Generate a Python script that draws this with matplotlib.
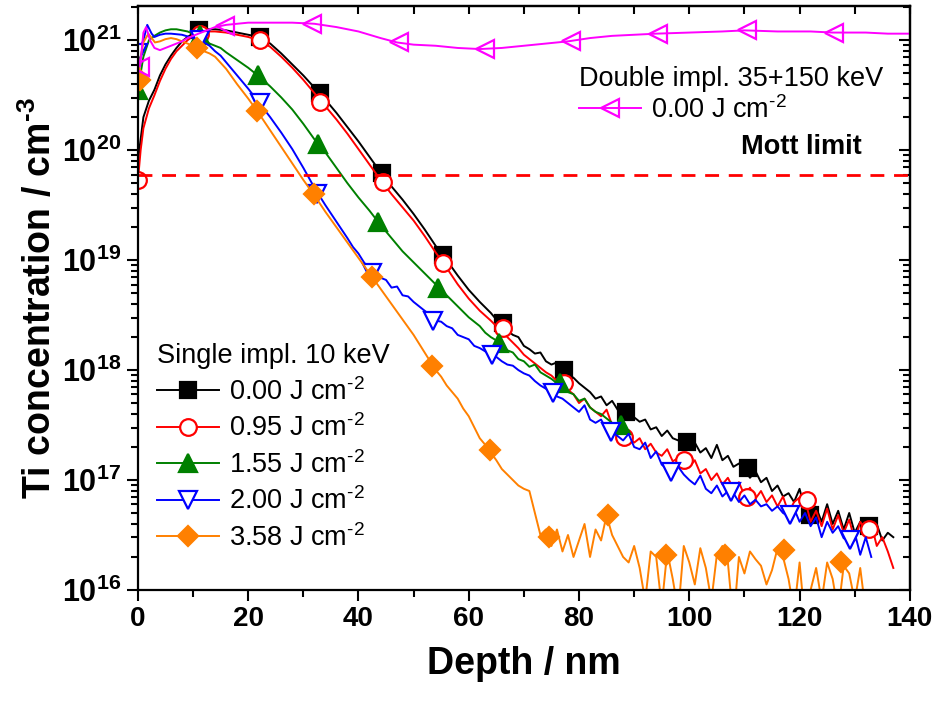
import matplotlib
matplotlib.use('Agg')
import matplotlib.pyplot as plt
import numpy as np
from matplotlib.lines import Line2D
from matplotlib.ticker import LogLocator, NullFormatter, FixedLocator

plt.rcParams['font.family'] = ['Liberation Sans', 'DejaVu Sans']
plt.rcParams['mathtext.fontset'] = 'custom'
plt.rcParams['mathtext.rm'] = 'Liberation Sans'
plt.rcParams['mathtext.bf'] = 'Liberation Sans:bold'

# depth in nm, concentration as log10(cm^-3)
smooth_depth = [0, 0.5, 1, 2, 3, 4, 5, 6, 7, 8, 9, 10, 11, 12, 13, 14,
                16, 18, 20, 22, 24, 26, 28, 30, 32, 34, 36, 38, 40, 42, 44,
                46, 48, 50, 52, 54, 56, 58, 60, 62, 64]

# single implantation 10 keV, 0.00 J/cm2
s000_depth = smooth_depth + list(range(65, 138))
s000_log = [19.9, 20.1, 20.3, 20.45, 20.55, 20.68, 20.78, 20.86, 20.93, 20.99, 21.03, 21.06, 21.09, 21.1, 21.1, 21.1,
            21.09, 21.07, 21.05, 21.03, 20.97, 20.88, 20.78, 20.68, 20.57, 20.46, 20.34, 20.21, 20.08, 19.94, 19.8,
            19.67, 19.55, 19.42, 19.28, 19.13, 19.0, 18.86, 18.73, 18.62, 18.52,
            18.46, 18.42, 18.36, 18.32, 18.30, 18.22, 18.19, 18.15, 18.16, 18.08,
            18.05, 18.07, 18.00, 17.96, 17.93, 17.88, 17.84, 17.80, 17.74, 17.76,
            17.68, 17.72, 17.64, 17.60, 17.62, 17.57, 17.53, 17.55, 17.46, 17.48,
            17.40, 17.45, 17.38, 17.36, 17.35, 17.30, 17.34, 17.25, 17.29, 17.20,
            17.32, 17.18, 17.22, 17.12, 17.15, 17.10, 17.02, 17.08, 16.98, 17.02,
            16.90, 16.95, 16.85, 16.88, 16.80, 16.92, 16.72, 16.68, 16.75, 16.62,
            16.78, 16.60, 16.72, 16.55, 16.70, 16.52, 16.62, 16.58, 16.50, 16.60,
            16.45, 16.52, 16.48]
s000_mk_depth = [11.1, 22.2, 33.1, 44.3, 55.3, 66.2, 77.3, 88.5, 99.5, 110.7, 121.8, 132.5]
s000_mk_log = [21.09, 21.03, 20.52, 19.79, 19.05, 18.43, 18.0, 17.62, 17.35, 17.11, 16.68, 16.58]

# 0.95 J/cm2
s095_depth = smooth_depth + list(range(65, 138))
s095_log = [19.72, 20.0, 20.2, 20.38, 20.5, 20.63, 20.74, 20.83, 20.9, 20.95, 21.0, 21.04, 21.06, 21.07, 21.08, 21.08,
            21.07, 21.05, 21.03, 21.0, 20.94, 20.85, 20.75, 20.64, 20.52, 20.4, 20.28, 20.15, 20.01, 19.87,
            19.73, 19.6, 19.48, 19.36, 19.22, 19.07, 18.93, 18.78, 18.65, 18.54, 18.45,
            18.40, 18.36, 18.30, 18.25, 18.20, 18.14, 18.10, 18.06, 18.02, 17.98,
            17.95, 17.90, 17.88, 17.82, 17.78, 17.70, 17.74, 17.66, 17.62, 17.58,
            17.64, 17.50, 17.45, 17.42, 17.40, 17.34, 17.38, 17.28, 17.33, 17.25,
            17.22, 17.28, 17.17, 17.20, 17.17, 17.12, 17.18, 17.06, 17.10, 17.00,
            17.06, 16.96, 17.02, 16.92, 16.98, 16.86, 16.93, 16.83, 16.90, 16.80,
            16.86, 16.76, 16.85, 16.70, 16.80, 16.84, 16.82, 16.62, 16.72, 16.58,
            16.74, 16.55, 16.68, 16.52, 16.64, 16.45, 16.62, 16.55, 16.60, 16.40,
            16.48, 16.35, 16.20]
s095_mk_depth = [0, 11.3, 22.2, 33.1, 44.4, 55.4, 66.2, 77.3, 88.2, 99.1, 110.4, 121.3, 132.5]
s095_mk_log = [19.73, 21.06, 21.0, 20.44, 19.71, 18.97, 18.38, 17.88, 17.39, 17.18, 16.85, 16.82, 16.55]

# 1.55 J/cm2
s155_depth = [0, 1, 2, 3, 4, 5, 6, 7, 8, 9, 10, 11, 12, 13, 14, 15, 16,
              18, 20, 22, 24, 26, 28, 30, 32, 34, 36, 38, 40, 42, 44, 46, 48, 50, 52, 54, 56, 58, 60] + list(range(61, 90))
s155_log = [20.55, 20.85, 21.0, 21.04, 21.07, 21.09, 21.1, 21.1, 21.09, 21.08, 21.06, 21.04, 21.0, 20.97, 20.95, 20.93, 20.89,
            20.82, 20.75, 20.67, 20.58, 20.48, 20.37, 20.24, 20.1, 19.98, 19.84, 19.7, 19.57, 19.45, 19.32,
            19.2, 19.08, 18.98, 18.88, 18.78, 18.68, 18.58, 18.48,
            18.44, 18.40, 18.34, 18.30, 18.27, 18.24, 18.18, 18.16, 18.10, 18.08,
            18.03, 18.05, 17.98, 17.95, 17.92, 17.88, 17.86, 17.80, 17.78, 17.72,
            17.74, 17.66, 17.62, 17.60, 17.56, 17.52, 17.50, 17.48, 17.45]
s155_mk_depth = [0, 11.3, 21.8, 32.7, 43.6, 54.5, 65.5, 76.5, 87.6]
s155_mk_log = [20.55, 21.05, 20.68, 20.06, 19.35, 18.75, 18.25, 17.88, 17.5]

# 2.00 J/cm2
s200_depth = [0, 1, 1.7, 2.5, 3, 4, 5, 6, 8, 10, 11, 12, 13, 14, 15, 16,
              18, 20, 22, 24, 26, 28, 30, 32, 34, 36, 38] + list(range(39, 134))
s200_log = [20.88, 21.0, 21.14, 21.06, 21.03, 21.05, 21.06, 21.06, 21.05, 21.02, 21.0, 20.98, 20.95, 20.9, 20.86, 20.8,
            20.68, 20.56, 20.43, 20.3, 20.16, 20.01, 19.84, 19.66, 19.5, 19.35, 19.2,
            19.12, 19.06, 18.98, 18.92, 18.87, 18.84, 18.82, 18.75, 18.76, 18.68,
            18.67, 18.62, 18.58, 18.54, 18.50, 18.45, 18.44, 18.40, 18.38, 18.32,
            18.30, 18.28, 18.22, 18.20, 18.17, 18.14, 18.12, 18.08, 18.05, 18.04,
            18.00, 17.97, 17.95, 17.90, 17.86, 17.83, 17.80, 17.76, 17.74, 17.70,
            17.66, 17.62, 17.68, 17.55, 17.52, 17.55, 17.46, 17.44, 17.40, 17.36,
            17.42, 17.30, 17.28, 17.34, 17.20, 17.26, 17.14, 17.10, 17.08, 17.12,
            17.05, 17.00, 16.96, 17.04, 16.92, 16.88, 16.95, 16.85, 16.90, 16.88,
            16.80, 16.86, 16.78, 16.82, 16.76, 16.78, 16.72, 16.76, 16.70, 16.67,
            16.74, 16.62, 16.70, 16.58, 16.66, 16.48, 16.62, 16.52, 16.58, 16.47,
            16.45, 16.52, 16.32, 16.48, 16.30]
s200_mk_depth = [0, 11.3, 22.2, 32.5, 42.5, 53.6, 64.3, 75.3, 85.8, 96.7, 107.6, 118.2, 129.1]
s200_mk_log = [20.88, 21.0, 20.43, 19.6, 18.88, 18.45, 18.14, 17.79, 17.44, 17.07, 16.89, 16.68, 16.45]

# 3.58 J/cm2
s358_depth = [0, 0.5, 1, 1.9, 2.5, 3.1, 4, 5, 6, 7, 8, 9, 10, 11, 12, 13, 14,
              16, 18, 20, 22, 24, 26, 28, 30, 32, 34, 36, 38, 40, 42, 44, 46, 48, 50, 52, 54] + list(range(55, 133))
s358_log = [20.64, 20.85, 20.98, 21.06, 21.02, 20.98, 20.99, 21.01, 21.02, 21.01, 20.99, 20.97, 20.95, 20.93, 20.9, 20.88, 20.85,
            20.74, 20.6, 20.47, 20.33, 20.18, 20.03, 19.88, 19.73, 19.59, 19.44, 19.3, 19.16, 19.02, 18.88,
            18.74, 18.6, 18.46, 18.32, 18.16, 18.0,
            17.94, 17.86, 17.80, 17.74, 17.65, 17.58, 17.48, 17.38, 17.32, 17.25,
            17.18, 17.10, 17.05, 17.00, 16.95, 16.92, 16.90, 16.70, 16.50, 16.55,
            16.40, 16.55, 16.35, 16.50, 16.30, 16.45, 16.60, 16.30, 16.55, 16.45,
            16.68, 16.50, 16.40, 16.30, 16.25, 16.40, 16.20, 15.90, 16.35, 16.30,
            15.85, 16.35, 16.10, 15.80, 16.40, 16.25, 16.05, 16.38, 16.20, 15.90,
            16.32, 16.40, 16.25, 15.70, 16.30, 16.15, 16.35, 16.28, 16.22, 16.05,
            16.18, 16.38, 16.30, 16.10, 15.80, 16.25, 15.70, 16.00, 16.20, 15.90,
            16.25, 16.10, 15.80, 16.22, 16.15, 15.90, 16.20, 15.80]
s358_mk_depth = [0.4, 10.7, 21.6, 31.9, 42.5, 53.4, 63.8, 74.6, 85.2, 95.8, 106.4, 117.2, 127.6]
s358_mk_log = [20.64, 20.93, 20.36, 19.6, 18.85, 18.04, 17.27, 16.48, 16.68, 16.32, 16.32, 16.36, 16.25]

# double implantation 35+150 keV, 0.00 J/cm2
d000_depth = [0, 0.4, 1, 1.5, 2.2, 3, 4, 5, 6, 7, 8, 9, 10, 11, 12, 13, 14, 16, 18, 20,
              24, 28, 32, 36, 40, 44, 47, 50, 54, 58, 62, 66, 70, 74, 78, 82, 86, 90, 94, 100,
              106, 110, 116, 122, 126, 132, 136, 140]
d000_log = [20.85, 20.76, 21.07, 21.12, 21.0, 20.93, 20.91, 20.93, 20.95, 20.97, 20.99, 21.02, 21.04, 21.06, 21.08, 21.1,
            21.12, 21.14, 21.15, 21.16, 21.16, 21.16, 21.15, 21.12, 21.08, 21.02, 20.98, 20.96, 20.95, 20.93,
            20.92, 20.93, 20.95, 20.97, 20.99, 21.02, 21.04, 21.05, 21.06, 21.07,
            21.08, 21.09, 21.08, 21.08, 21.07, 21.07, 21.06, 21.06]
d000_mk_depth = [0.4, 15.8, 31.6, 47.4, 63.0, 78.5, 94.3, 110.4, 126.2]
d000_mk_log = [20.76, 21.13, 21.15, 20.98, 20.92, 20.99, 21.06, 21.09, 21.07]

mott_limit = 6e19

HY = '\u2010'  # short hyphen for superscripts, as in the original

fig = plt.figure(figsize=(9.38, 7.04), dpi=100)
ax = fig.add_axes([0.147, 0.162, 0.823, 0.8295])

series = [
    (s000_depth, s000_log, s000_mk_depth, s000_mk_log, 'black', 's', 'black', '0.00'),
    (s095_depth, s095_log, s095_mk_depth, s095_mk_log, '#FF0000', 'o', 'white', '0.95'),
    (s155_depth, s155_log, s155_mk_depth, s155_mk_log, '#008000', '^', '#008000', '1.55'),
    (s200_depth, s200_log, s200_mk_depth, s200_mk_log, '#0000FF', 'v', 'white', '2.00'),
    (s358_depth, s358_log, s358_mk_depth, s358_mk_log, '#FF8000', 'D', '#FF8000', '3.58'),
]
msize = {'s': 11, 'o': 12, '^': 13, 'v': 13, 'D': 10}

single_handles = []
for dep, lg, mdep, mlg, col, mk, face, lab in series:
    ax.plot(dep, 10 ** np.array(lg), color=col, lw=1.4)
    ax.plot(mdep, 10 ** np.array(mlg), ls='none', marker=mk, ms=msize[mk],
            mfc=face, mec=col, mew=1.6)
    single_handles.append(Line2D([], [], color=col, lw=1.4, marker=mk, ms=msize[mk],
                                 mfc=face, mec=col, mew=1.6))

ax.plot(d000_depth, 10 ** np.array(d000_log), color='#FF00FF', lw=1.4)
ax.plot(d000_mk_depth, 10 ** np.array(d000_mk_log), ls='none', marker='<', ms=13,
        mfc='none', mec='#FF00FF', mew=1.6)
double_handle = Line2D([], [], color='#FF00FF', lw=1.4, marker='<', ms=13,
                       mfc='none', mec='#FF00FF', mew=1.6)

ax.axhline(mott_limit, color='#FF0000', lw=2, ls=(0, (5, 3.5)))
ax.text(131.3, 1.07e20, 'Mott limit', fontsize=19.5, fontweight='bold', ha='right', va='center')

ax.set_yscale('log')
ax.set_xlim(0, 140)
ax.set_ylim(1e16, 2.05e21)

ax.xaxis.set_major_locator(FixedLocator([0, 20, 40, 60, 80, 100, 120, 140]))
ax.xaxis.set_minor_locator(FixedLocator([10, 30, 50, 70, 90, 110, 130]))
ax.yaxis.set_major_locator(LogLocator(base=10, numticks=10))
ax.yaxis.set_minor_locator(LogLocator(base=10, subs=np.arange(2, 10), numticks=10))
ax.yaxis.set_minor_formatter(NullFormatter())
ax.set_yticks([1e16, 1e17, 1e18, 1e19, 1e20, 1e21])
ax.set_yticklabels([r'$\mathbf{10^{%d}}$' % e for e in [16, 17, 18, 19, 20, 21]])
ax.set_xticklabels(['0', '20', '40', '60', '80', '100', '120', '140'])
for lbl in ax.get_xticklabels():
    lbl.set_fontweight('bold')
ax.tick_params(axis='both', which='major', direction='out', length=8, width=1.5, labelsize=20)
ax.tick_params(axis='y', which='major', labelsize=22, pad=4)
ax.tick_params(axis='both', which='minor', direction='out', length=5, width=1.5)

for sp in ax.spines.values():
    sp.set_linewidth(1.6)

top = ax.secondary_xaxis('top')
top.xaxis.set_major_locator(FixedLocator(list(range(0, 141, 10))))
top.tick_params(direction='in', length=6, width=1.5, labeltop=False)
right = ax.secondary_yaxis('right')
right.tick_params(which='both', direction='in', width=1.5, labelright=False)
right.tick_params(which='major', length=8)
right.tick_params(which='minor', length=5)
right.yaxis.set_minor_formatter(NullFormatter())
for sp in list(top.spines.values()) + list(right.spines.values()):
    sp.set_linewidth(1.6)

ax.set_xlabel('Depth / nm', fontsize=27, fontweight='bold', labelpad=10)
ax.set_ylabel(r'Ti concentration / cm$^{\mathbf{%s3}}$' % HY, fontsize=27, fontweight='bold', labelpad=2)

leg1 = ax.legend(single_handles, [r'%s J cm$^{%s2}$' % (s[-1], HY) for s in series],
                 title='Single impl. 10 keV', title_fontsize=19.5, fontsize=19.5,
                 loc='upper left', bbox_to_anchor=(0.0, 0.455), frameon=False,
                 handlelength=2.3, handletextpad=0.35, labelspacing=0.32,
                 borderaxespad=0.3, alignment='left')
ax.add_artist(leg1)
ax.legend([double_handle], [r'0.00 J cm$^{%s2}$' % HY],
          title='Double impl. 35+150 keV', title_fontsize=19.5, fontsize=19.5,
          loc='upper left', bbox_to_anchor=(0.547, 0.93), frameon=False,
          handlelength=2.3, handletextpad=0.35, labelspacing=0.15,
          borderaxespad=0.3, alignment='left')

fig.savefig('out.png', dpi=100)
